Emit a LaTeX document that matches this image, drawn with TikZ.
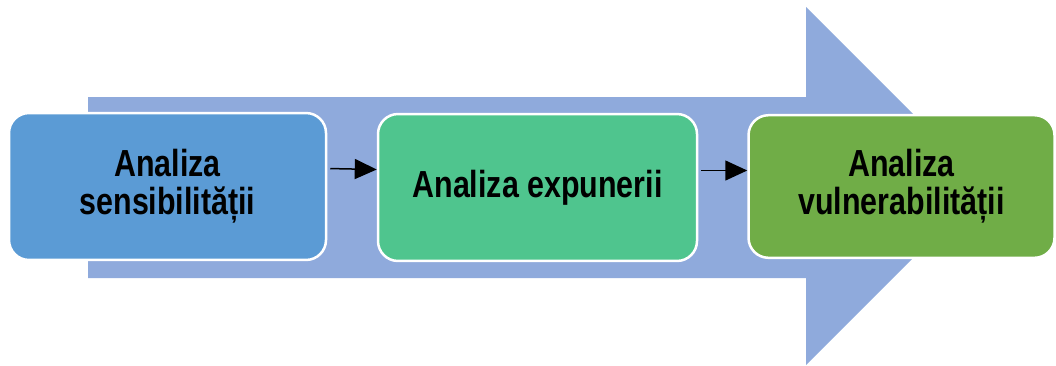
\documentclass[tikz,border=0pt]{standalone}
\usepackage{fontspec}
\setmainfont{Liberation Sans}
\usetikzlibrary{arrows.meta}
\definecolor{arrowblue}{HTML}{8FAADC}
\definecolor{stepblue}{HTML}{5B9BD5}
\definecolor{stepgreen}{HTML}{4FC58E}
\definecolor{stepolive}{HTML}{70AD47}
\begin{document}
\begin{tikzpicture}[x=1pt, y=1pt,
	stepbox/.style={draw=white, line width=2.5pt, rounded corners=20pt, yscale=1.24, align=center,
		font=\fontsize{30.4}{30.6}\selectfont\bfseries, text=black, minimum height=118.5pt},
	link/.style={line width=1.5pt, black, arrows={-Triangle[length=22pt,width=20pt]}}]
		\useasboundingbox (0,0) rectangle (1056,-365);
		% big background arrow
		\fill[arrowblue] (88,-97) -- (806,-97) -- (806,-7) -- (985,-186) -- (806,-365) -- (806,-278) -- (88,-278) -- cycle;
		\node[stepbox, fill=stepblue, minimum width=317pt] (sens) at (167.5,-186.5) {Analiza\\sensibilității};
		\node[stepbox, fill=stepgreen, minimum width=319pt] (expu) at (537.5,-187.5) {Analiza expunerii};
		\node[stepbox, fill=stepolive, minimum width=306pt, minimum height=115pt] (vuln) at (901.5,-186.5) {Analiza\\vulnerabilității};
		\draw[link, shorten <=3pt] ([yshift=18pt]sens.east) -- ([yshift=18pt]expu.west);
		\draw[link, shorten <=3pt] ([yshift=17pt]expu.east) -- ([yshift=16pt]vuln.west);
\end{tikzpicture}
\end{document}
